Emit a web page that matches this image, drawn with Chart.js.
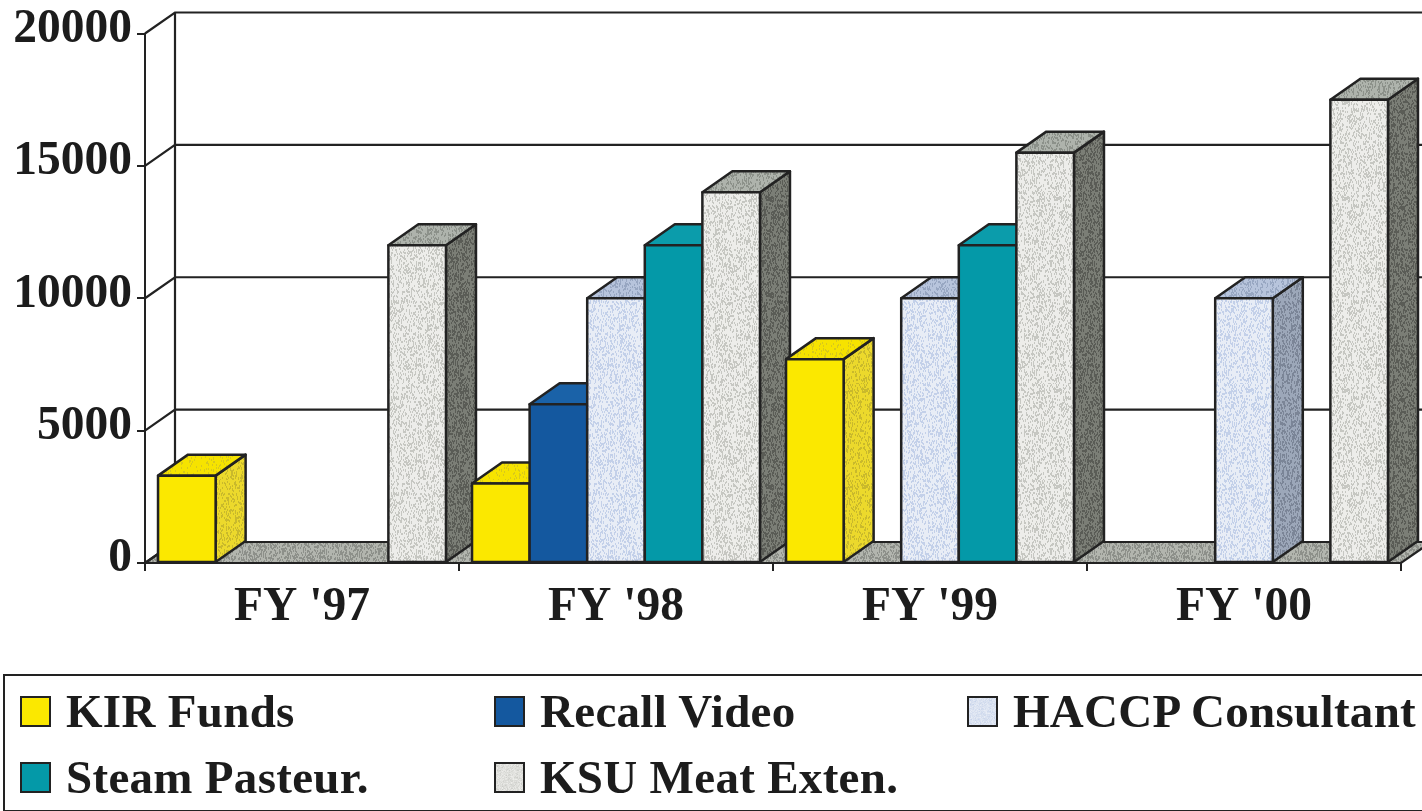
<!DOCTYPE html>
<html>
<head>
<meta charset="utf-8">
<title>Funding by fiscal year</title>
<script src="https://cdn.jsdelivr.net/npm/chart.js@4/dist/chart.umd.min.js"></script>
<style>
    html, body { margin: 0; padding: 0; background: #fff; overflow: hidden; }
    #wrap { position: relative; width: 1422px; height: 811px; overflow: hidden; }
    canvas#chart { position: absolute; left: 0; top: 0; }
    #legend {
        position: absolute; left: 3px; top: 674px; width: 1440px; height: 134px;
        border: 2px solid #222; box-sizing: content-box;
        display: grid; grid-template-columns: 474px 473px auto; grid-auto-rows: 66px;
        padding: 0 0 0 15px; align-content: center;
        font: bold 47px "Liberation Serif", serif; letter-spacing: 0.3px; color: #1c1c1c;
    }
    .item { display: flex; align-items: center; white-space: nowrap; }
    .item .name { position: relative; top: 1px; }
    .swatch { width: 27px; height: 27px; border: 2px solid #222; margin-right: 15px; flex: none; background-size: cover; position: relative; top: 1px; }
</style>
</head>
<body>
<div id="wrap">
    <canvas id="chart" width="1422" height="675"></canvas>
    <div id="legend"></div>
</div>
<script>
// Chart data
const categories = ["FY '97", "FY '98", "FY '99", "FY '00"];
const seriesNames = ['KIR Funds', 'Recall Video', 'HACCP Consultant', 'Steam Pasteur.', 'KSU Meat Exten.'];
const kirFunds = [3300, 3000, 7700, null];
const recallVideo = [null, 6000, null, null];
const haccpConsultant = [null, 10000, 10000, 10000];
const steamPasteur = [null, 12000, 12000, null];
const ksuMeatExten = [12000, 14000, 15500, 17500];
const seriesValues = [kirFunds, recallVideo, haccpConsultant, steamPasteur, ksuMeatExten];
const yTicks = [0, 5000, 10000, 15000, 20000];

const LINE = '#222';
const DEPTH_X = 30;
const DEPTH_Y = -21;

/**
 * Build a stippled fill that looks like the printed halftone
 */
function makeTexture(base, speck, amount) {
    const size = 96;
    const tex = document.createElement('canvas');
    tex.width = size;
    tex.height = size;
    const c = tex.getContext('2d');
    c.fillStyle = base;
    c.fillRect(0, 0, size, size);
    c.fillStyle = speck;
    for (let y = 0; y < size; y++) {
        for (let x = 0; x < size; x++) {
            const h = Math.sin(x * 12.9898 + y * 78.233) * 43758.5453;
            if (h - Math.floor(h) < amount) {
                c.fillRect(x, y, 1, 2);
            }
        }
    }
    return tex;
}

const textures = {
    yellowSide: makeTexture('#ecd92c', '#c9b92c', 0.16),
    yellowTop: makeTexture('#f6e300', '#d8c81c', 0.08),
    haccpFront: makeTexture('#e8edf6', '#c3d0e9', 0.2),
    haccpSide: makeTexture('#9ca7b9', '#7b8597', 0.22),
    haccpTop: makeTexture('#b7c4dc', '#98a7c2', 0.2),
    ksuFront: makeTexture('#ededea', '#c6c7c2', 0.2),
    ksuSide: makeTexture('#7b7e76', '#5a5c56', 0.25),
    ksuTop: makeTexture('#aeb3ac', '#8c918a', 0.22),
    floor: makeTexture('#b2b5ae', '#8d908a', 0.25),
};

// front, side and top fill of each series
const seriesFaces = [
    { front: '#fbe800', side: textures.yellowSide, top: textures.yellowTop },
    { front: '#14589f', side: '#0f4a85', top: '#1a62a8' },
    { front: textures.haccpFront, side: textures.haccpSide, top: textures.haccpTop },
    { front: '#0499a8', side: '#077f8c', top: '#0b9cab' },
    { front: textures.ksuFront, side: textures.ksuSide, top: textures.ksuTop },
];

function toFill(ctx, face) {
    return typeof face === 'string' ? face : ctx.createPattern(face, 'repeat');
}

function polygon(ctx, points, fill) {
    ctx.beginPath();
    points.forEach(([x, y], i) => (i ? ctx.lineTo(x, y) : ctx.moveTo(x, y)));
    ctx.closePath();
    ctx.fillStyle = fill;
    ctx.fill();
    ctx.stroke();
}

/**
 * Back wall, side wall and floor, positioned from the chart's scales
 */
const wallsPlugin = {
    id: 'walls',
    beforeDatasetsDraw(chart) {
        const { ctx, chartArea, scales } = chart;
        const { left, right } = chartArea;
        const zero = scales.y.getPixelForValue(0);
        ctx.save();
        ctx.strokeStyle = LINE;
        ctx.lineWidth = 2.2;
        polygon(ctx, [
            [left, zero],
            [left + DEPTH_X, zero + DEPTH_Y],
            [right + DEPTH_X, zero + DEPTH_Y],
            [right, zero],
        ], toFill(ctx, textures.floor));
        for (const value of yTicks) {
            const y = scales.y.getPixelForValue(value);
            ctx.beginPath();
            ctx.moveTo(left, y);
            ctx.lineTo(left + DEPTH_X, y + DEPTH_Y);
            ctx.lineTo(right + DEPTH_X, y + DEPTH_Y);
            ctx.stroke();
        }
        ctx.beginPath();
        ctx.moveTo(left + DEPTH_X, zero + DEPTH_Y);
        ctx.lineTo(left + DEPTH_X, scales.y.getPixelForValue(20000) + DEPTH_Y);
        ctx.stroke();
        ctx.restore();
    },
};

/**
 * Paint the boxes category by category so nearer bars overlap correctly
 */
const boxesPlugin = {
    id: 'boxes',
    afterDatasetsDraw(chart) {
        const { ctx } = chart;
        ctx.save();
        ctx.strokeStyle = LINE;
        ctx.lineWidth = 2.5;
        ctx.lineJoin = 'round';
        categories.forEach((_, index) => {
            seriesValues.forEach((values, seriesIndex) => {
                if (values[index] === null) return;
                const bar = chart.getDatasetMeta(seriesIndex).data[index];
                const faces = seriesFaces[seriesIndex];
                const x0 = bar.x - bar.width / 2;
                const x1 = bar.x + bar.width / 2;
                const top = bar.y;
                const base = bar.base;
                polygon(ctx, [
                    [x1, top],
                    [x1 + DEPTH_X, top + DEPTH_Y],
                    [x1 + DEPTH_X, base + DEPTH_Y],
                    [x1, base],
                ], toFill(ctx, faces.side));
                polygon(ctx, [
                    [x0, top],
                    [x0 + DEPTH_X, top + DEPTH_Y],
                    [x1 + DEPTH_X, top + DEPTH_Y],
                    [x1, top],
                ], toFill(ctx, faces.top));
                polygon(ctx, [[x0, top], [x1, top], [x1, base], [x0, base]], toFill(ctx, faces.front));
            });
        });
        ctx.restore();
    },
};

/**
 * Build the legend below the chart
 */
function renderLegend() {
    const legend = document.getElementById('legend');
    seriesNames.forEach((name, i) => {
        const item = document.createElement('div');
        item.className = 'item';
        const swatch = document.createElement('span');
        swatch.className = 'swatch';
        const face = seriesFaces[i].front;
        if (typeof face === 'string') {
            swatch.style.backgroundColor = face;
        } else {
            swatch.style.backgroundImage = `url(${face.toDataURL()})`;
        }
        const label = document.createElement('span');
        label.className = 'name';
        label.textContent = name;
        item.append(swatch, label);
        legend.appendChild(item);
    });
}

function createChart() {
    const tickFont = { family: '"Liberation Serif", serif', size: 47.5, weight: 'bold' };
    new Chart(document.getElementById('chart'), {
        type: 'bar',
        data: {
            labels: categories,
            datasets: seriesNames.map((name, i) => ({
                label: name,
                data: seriesValues[i],
                backgroundColor: '#fff',
                categoryPercentage: 0.917,
                barPercentage: 1,
            })),
        },
        options: {
            responsive: false,
            animation: false,
            layout: { padding: { top: 33, right: 21 } },
            plugins: { legend: { display: false }, tooltip: { enabled: false } },
            scales: {
                x: {
                    afterFit(axis) { axis.height = 112; },
                    border: { color: LINE, width: 2 },
                    grid: { drawOnChartArea: false, color: LINE, lineWidth: 2, tickLength: 8 },
                    ticks: { color: '#1c1c1c', font: tickFont, padding: 8, maxRotation: 0 },
                },
                y: {
                    min: 0,
                    max: 20000,
                    afterFit(axis) { axis.width = 145; },
                    afterBuildTicks(axis) { axis.ticks = yTicks.map(value => ({ value })); },
                    border: { color: LINE, width: 2 },
                    grid: { drawOnChartArea: false, color: LINE, lineWidth: 2, tickLength: 8 },
                    ticks: { color: '#1c1c1c', font: tickFont, padding: 5, labelOffset: -4, callback: v => String(v) },
                },
            },
        },
        plugins: [wallsPlugin, boxesPlugin],
    });
}

renderLegend();
createChart();
</script>
</body>
</html>
